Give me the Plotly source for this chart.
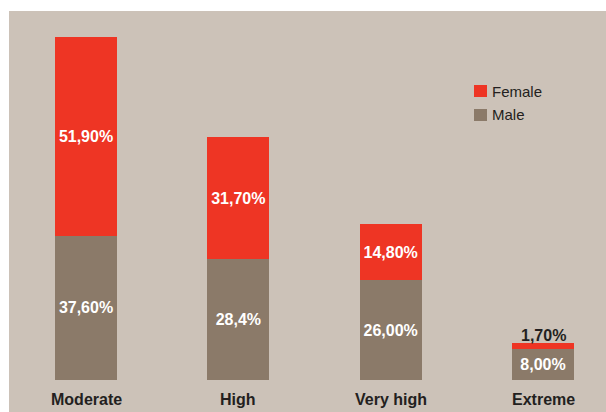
import plotly.graph_objects as go

categories = ["Moderate", "High", "Very high", "Extreme"]
female_values = [51.9, 31.7, 14.8, 1.7]
male_values = [37.6, 31.6, 26.0, 8.0]
female_labels = ["51,90%", "31,70%", "14,80%", "1,70%"]
male_labels = ["37,60%", "28,4%", "26,00%", "8,00%"]

FONT = "Arial, Liberation Sans, sans-serif"
RED = "#ee3524"
BROWN = "#8b7a69"
BEIGE = "#ccc2b8"
DARK = "#231f20"

W, H = 606, 412
ML, MT = 9, 11
PW, PH = W - ML, H - MT

# labels that do not fit inside their segment go above the bar
inside_female = [v >= 5 for v in female_values]

fig = go.Figure()
fig.add_trace(go.Bar(
    x=categories, y=male_values, name="Male", marker_color=BROWN,
    marker_line_width=0, width=0.407,
    text=male_labels, texttemplate="<b>%{text}</b>", textposition="inside",
    insidetextanchor="middle", textangle=0, constraintext="none",
    textfont=dict(family=FONT, size=16, color="white"),
    showlegend=False, hoverinfo="skip",
))
fig.add_trace(go.Bar(
    x=categories, y=female_values, name="Female", marker_color=RED,
    marker_line_width=0, width=0.407,
    text=[t if ok else "" for t, ok in zip(female_labels, inside_female)],
    texttemplate="%{text}",
    textposition=["inside" if ok else "none" for ok in inside_female],
    insidetextanchor="middle", textangle=0, constraintext="none",
    insidetextfont=dict(family=FONT, size=16, color="white", weight="bold"),
    showlegend=False, hoverinfo="skip",
))

for c, m, f, t, ok in zip(categories, male_values, female_values, female_labels, inside_female):
    if not ok:
        fig.add_annotation(x=c, y=m + f, text="<b>%s</b>" % t, showarrow=False,
                           xanchor="center", yanchor="bottom", yshift=-3,
                           font=dict(family=FONT, size=16, color=DARK))

# category labels
for c in categories:
    fig.add_annotation(x=c, y=-5.2, text="<b>%s</b>" % c, showarrow=False,
                       font=dict(family=FONT, size=16, color=DARK),
                       xanchor="center", yanchor="middle")

# custom legend
def px_x(p):
    return (p - ML) / PW

def px_y(p):
    return (H - p) / PH

legend_items = [("Female", RED, 91), ("Male", BROWN, 115)]
for name, col, cy in legend_items:
    fig.add_shape(type="rect", xref="paper", yref="paper",
                  x0=px_x(474), x1=px_x(487), y0=px_y(cy + 6), y1=px_y(cy - 6),
                  fillcolor=col, line_width=0)
    fig.add_annotation(xref="paper", yref="paper", x=px_x(490), y=px_y(cy),
                       text=name, showarrow=False, xanchor="left", yanchor="middle",
                       font=dict(family=FONT, size=15, color=DARK))

fig.update_layout(
    width=W, height=H,
    margin=dict(l=ML, r=0, t=MT, b=0, pad=0),
    paper_bgcolor="white", plot_bgcolor=BEIGE,
    barmode="stack",
    xaxis=dict(range=[-0.5055, 3.4136], showticklabels=False, showgrid=False,
               zeroline=False, showline=False, ticks=""),
    yaxis=dict(range=[-8.35, 96.3], showticklabels=False, showgrid=False,
               zeroline=False, showline=False, ticks=""),
    showlegend=False,
)

fig.write_html("out.html")
